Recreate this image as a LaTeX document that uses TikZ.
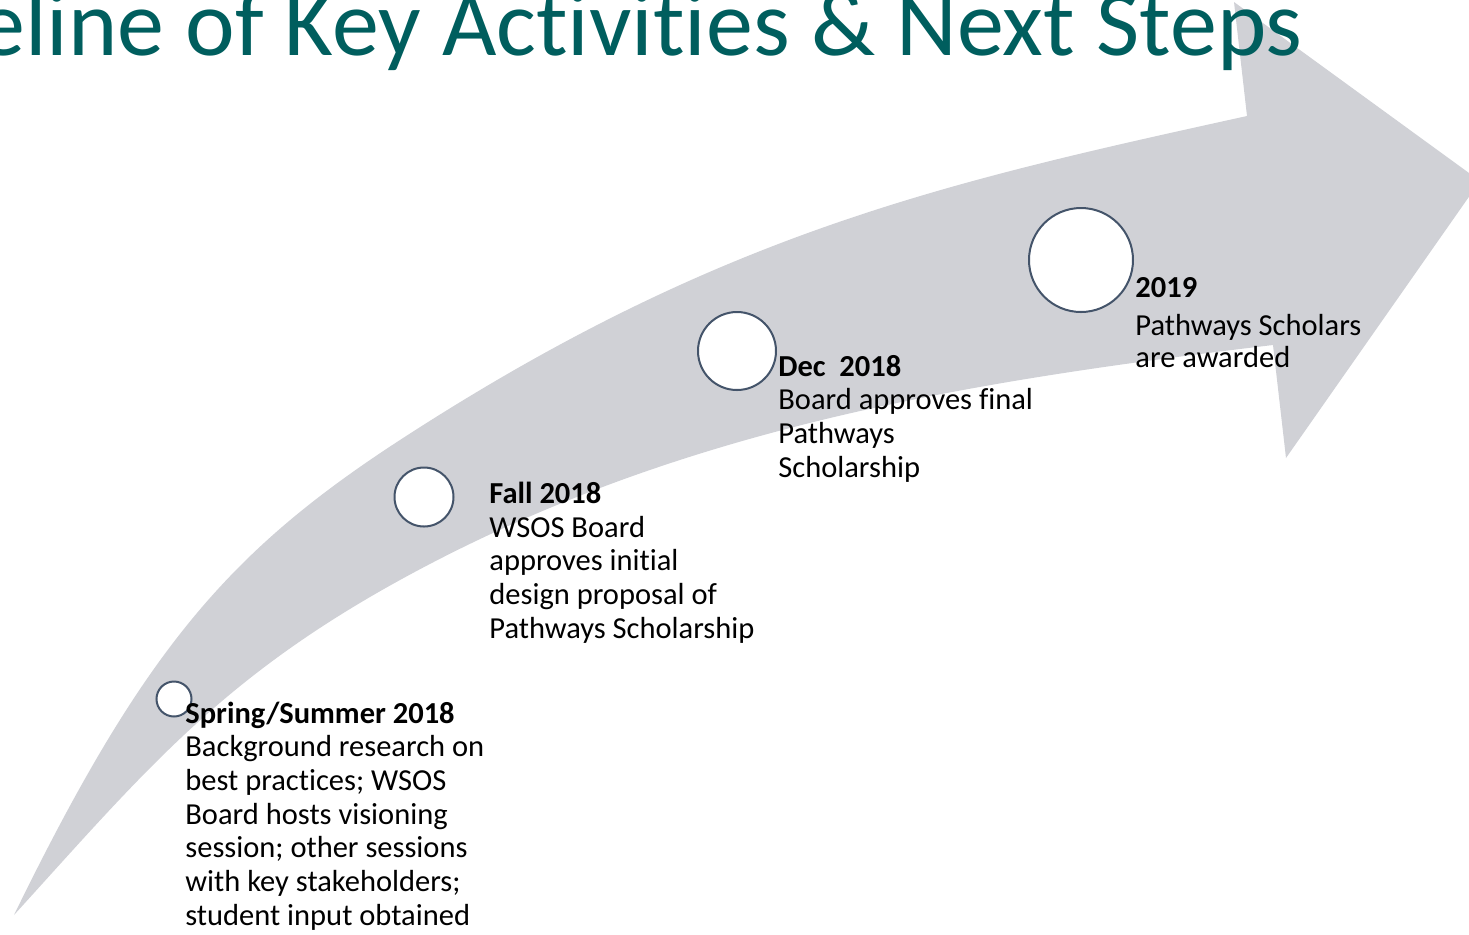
\documentclass[tikz,border=0pt]{standalone}
\usepackage{fontspec}
\setmainfont{Carlito}[Ligatures=NoCommon]
\definecolor{arrowgrey}{RGB}{208,209,214}
\definecolor{ringcol}{RGB}{68,84,106}
\definecolor{titlecol}{RGB}{0,94,94}
\newcommand{\blockfont}{\fontsize{15.25}{16.85}\selectfont}
\begin{document}
\begin{tikzpicture}[x=0.5pt,y=-0.5pt,
  ring/.style={circle,draw=ringcol,fill=white,line width=1pt,inner sep=0pt},
  label/.style={anchor=base west,inner sep=0pt,font=\blockfont,text=black},
  titletext/.style={anchor=base east,inner sep=0pt,font=\fontsize{47}{52}\selectfont,text=titlecol}]
\useasboundingbox (0,0) rectangle (1469,934);
\begin{scope}
\clip (0,0) rectangle (1469,934);
% grey curved arrow
\coordinate (tail) at (14,915);
\coordinate (om) at (400,440);
\coordinate (oe) at (1247,116);
\coordinate (hb) at (1234,2);
\coordinate (tip) at (1480,181);
\coordinate (hl) at (1286,458);
\coordinate (ie) at (1273,345);
\coordinate (im) at (400,580);
\fill[arrowgrey] (tail)
  .. controls (144,648.5) and (230,550.5) .. (om)
  .. controls (720,232) and (947,182) .. (oe)
  -- (hb) -- (tip) -- (hl) -- (ie)
  .. controls (973,381) and (680,426) .. (im)
  .. controls (220,679) and (144,772) .. (tail)
  -- cycle;
% milestone circles
\node[ring,minimum size=17.5pt] (c1) at (174,699) {};
\node[ring,minimum size=29.5pt] (c2) at (424,497) {};
\node[ring,minimum size=39pt] (c3) at (737,351) {};
\node[ring,minimum size=52pt] (c4) at (1081,260) {};
% labels
\node[label] (t1) at (185,723) {\vtop{\baselineskip=16.85pt
  \hbox{\bfseries Spring/Summer 2018}
  \hbox{Background research on}
  \hbox{best practices; WSOS}
  \hbox{Board hosts visioning}
  \hbox{session; other sessions}
  \hbox{with key stakeholders;}
  \hbox{student input obtained}}};
\node[label] (t2) at (489,503.5) {\vtop{\baselineskip=16.85pt
  \hbox{\bfseries Fall 2018}
  \hbox{WSOS Board}
  \hbox{approves initial}
  \hbox{design proposal of}
  \hbox{Pathways Scholarship}}};
\node[label] (t3) at (778,376) {\vtop{\baselineskip=16.85pt
  \hbox{\bfseries Dec\ \ 2018}
  \hbox{Board approves final}
  \hbox{Pathways}
  \hbox{Scholarship}}};
\node[label] (t4) at (1135,297) {\vtop{\baselineskip=16pt
  \hbox{\bfseries 2019}
  \vskip 3pt
  \hbox{Pathways Scholars}
  \hbox{are awarded}}};
% title
\node[titletext] (title) at (1303,55) {Timeline of Key Activities \& Next Steps};
\end{scope}
\end{tikzpicture}
\end{document}
